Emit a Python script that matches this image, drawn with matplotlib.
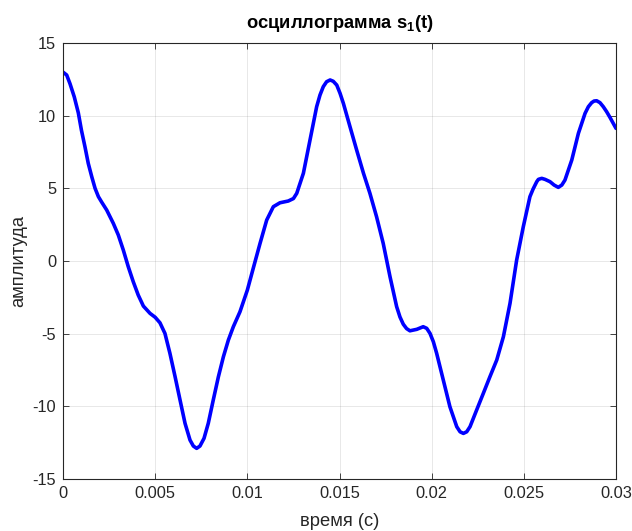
import matplotlib.pyplot as plt

plt.rcParams['font.family'] = ['Liberation Sans', 'DejaVu Sans']
plt.rcParams['mathtext.fontset'] = 'custom'
plt.rcParams['mathtext.rm'] = 'Liberation Sans'
plt.rcParams['mathtext.bf'] = 'Liberation Sans:bold'
plt.rcParams['axes.unicode_minus'] = False

# время (с)
t = [0.0, 0.0002, 0.00038, 0.00061, 0.00083, 0.001, 0.00119, 0.00137,
     0.00156, 0.00174, 0.00192, 0.0021, 0.00237, 0.00273, 0.003, 0.00327,
     0.00354, 0.00381, 0.00408, 0.00436, 0.00472, 0.005, 0.00526, 0.00553,
     0.0058, 0.00608, 0.00635, 0.00662, 0.00689, 0.00707, 0.00725, 0.00743,
     0.00765, 0.00788, 0.00815, 0.00843, 0.0087, 0.00897, 0.00924, 0.0096,
     0.01, 0.01032, 0.01069, 0.01105, 0.01141, 0.01177, 0.01222, 0.0125,
     0.01268, 0.01304, 0.0134, 0.01376, 0.01394, 0.01412, 0.0143, 0.01449,
     0.01466, 0.01485, 0.01503, 0.01521, 0.01557, 0.01593, 0.0163, 0.01665,
     0.01701, 0.01737, 0.01774, 0.0181, 0.01828, 0.01846, 0.01864, 0.01882,
     0.01919, 0.01954, 0.01973, 0.01991, 0.02009, 0.02027, 0.02063, 0.02099,
     0.02136, 0.02154, 0.02172, 0.0219, 0.02208, 0.02244, 0.0228, 0.02316,
     0.02353, 0.02389, 0.02425, 0.02461, 0.02497, 0.02533, 0.0255, 0.0257,
     0.02579, 0.02597, 0.02615, 0.02642, 0.02664, 0.02687, 0.02706, 0.02723,
     0.0276, 0.02796, 0.02832, 0.0285, 0.02868, 0.02881, 0.02895, 0.02913,
     0.02931, 0.02949, 0.02967, 0.03]

# амплитуда
s1 = [13.0, 12.8, 12.2, 11.3, 10.2, 9.0, 7.87, 6.72,
      5.8, 5.0, 4.43, 4.05, 3.51, 2.59, 1.79, 0.76,
      -0.39, -1.42, -2.34, -3.1, -3.6, -3.87, -4.25, -4.98,
      -6.35, -7.96, -9.57, -11.17, -12.32, -12.73, -12.89, -12.73,
      -12.2, -11.17, -9.57, -7.96, -6.59, -5.44, -4.52, -3.49,
      -2.0, -0.5, 1.22, 2.82, 3.74, 4.01, 4.13, 4.3,
      4.66, 6.04, 8.33, 10.62, 11.42, 12.0, 12.34, 12.46,
      12.37, 12.11, 11.54, 10.85, 9.24, 7.64, 6.04, 4.66,
      3.05, 1.22, -1.08, -3.14, -3.85, -4.35, -4.65, -4.8,
      -4.7, -4.52, -4.63, -4.98, -5.55, -6.35, -8.19, -10.03,
      -11.4, -11.75, -11.86, -11.75, -11.4, -10.25, -9.11, -7.96,
      -6.81, -5.21, -2.91, 0.07, 2.36, 4.43, 4.95, 5.46,
      5.62, 5.69, 5.62, 5.46, 5.23, 5.07, 5.23, 5.57,
      6.95, 8.79, 10.16, 10.62, 10.9, 11.01, 11.03, 10.9,
      10.62, 10.28, 9.89, 9.13]

xticks = [0, 0.005, 0.01, 0.015, 0.02, 0.025, 0.03]
xticklabels = ['0', '0.005', '0.01', '0.015', '0.02', '0.025', '0.03']
yticks = [-15, -10, -5, 0, 5, 10, 15]

fig = plt.figure(figsize=(6.32, 5.31), dpi=100)
ax = fig.add_axes([0.0997, 0.0979, 0.875, 0.821])

ax.plot(t, s1, color='#0000ff', linewidth=2.6, solid_joinstyle='round',
        solid_capstyle='round')

ax.set_xlim(0, 0.03)
ax.set_ylim(-15, 15)
ax.set_xticks(xticks)
ax.set_xticklabels(xticklabels)
ax.set_yticks(yticks)

ax.grid(True, color='#262626', alpha=0.12, linewidth=0.6)
ax.tick_params(direction='in', length=4, width=0.6, colors='#262626',
               labelsize=11.8, top=True, right=True, pad=5)
for sp in ax.spines.values():
    sp.set_color('#262626')
    sp.set_linewidth(0.8)

ax.set_xlabel('время (с)', fontsize=13.2, color='#262626', labelpad=9)
ax.set_ylabel('амплитуда', fontsize=13.2, color='#262626', labelpad=4)
ax.set_title(r'осциллограмма s$_{\mathbf{1}}$(t)', fontsize=13.2,
             fontweight='bold', color='black', pad=11)

fig.savefig('out.png', dpi=100)
